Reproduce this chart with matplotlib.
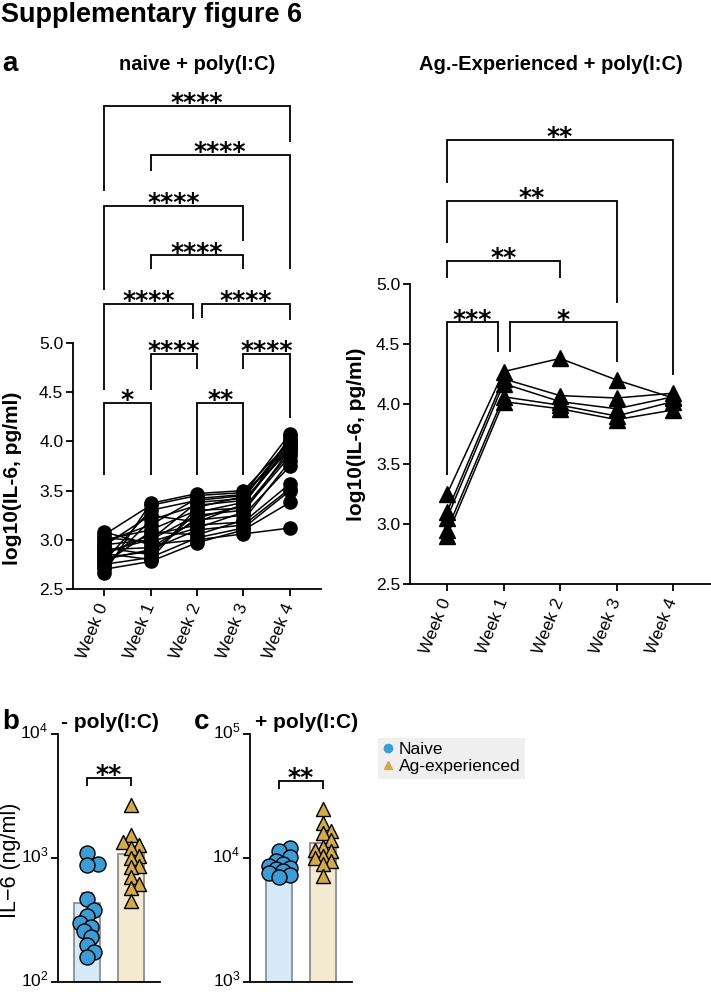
import numpy as np
import matplotlib
matplotlib.use('Agg')
import matplotlib.pyplot as plt
from matplotlib.lines import Line2D
from matplotlib.ticker import NullLocator
from matplotlib.transforms import ScaledTranslation

plt.rcParams['font.family'] = ['Liberation Sans', 'DejaVu Sans']
plt.rcParams['mathtext.fontset'] = 'custom'
plt.rcParams['mathtext.rm'] = 'Liberation Sans'
plt.rcParams['mathtext.it'] = 'Liberation Sans:italic'
plt.rcParams['mathtext.bf'] = 'Liberation Sans:bold'

# ---------------- data ----------------
weeks = ['Week 0', 'Week 1', 'Week 2', 'Week 3', 'Week 4']

# panel a, naive + poly(I:C): log10(IL-6) per donor, one list per week
naive_w0 = [3.08, 2.70, 2.75, 2.80, 2.85, 2.90, 2.95, 3.00, 3.05, 2.72,
            2.78, 2.66, 2.88, 2.82, 2.98, 2.92, 3.02, 2.76, 2.86, 2.94]
naive_w1 = [2.95, 2.78, 2.82, 2.90, 3.05, 2.92, 3.00, 3.10, 3.35, 3.20,
            3.30, 3.37, 3.00, 2.88, 3.15, 2.85, 2.98, 3.08, 2.80, 3.25]
naive_w2 = [3.00, 2.97, 3.02, 3.10, 3.15, 3.20, 3.25, 3.30, 3.45, 3.35,
            3.40, 3.47, 3.38, 3.22, 3.42, 3.28, 3.12, 3.05, 3.33, 3.18]
naive_w3 = [3.06, 3.10, 3.12, 3.15, 3.18, 3.25, 3.30, 3.32, 3.48, 3.40,
            3.45, 3.50, 3.42, 3.35, 3.46, 3.38, 3.28, 3.20, 3.44, 3.36]
naive_w4 = [3.12, 3.38, 3.50, 3.52, 3.57, 3.75, 3.85, 3.88, 3.90, 3.93,
            3.97, 4.00, 4.02, 4.05, 4.08, 3.95, 3.92, 3.80, 4.00, 3.98]

# panel a, Ag.-Experienced + poly(I:C)
ag_w0 = [3.25, 3.10, 3.05, 2.95, 2.90]
ag_w1 = [4.27, 4.21, 4.17, 4.06, 4.02]
ag_w2 = [4.38, 4.07, 4.02, 3.99, 3.96]
ag_w3 = [4.20, 4.05, 3.96, 3.90, 3.87]
ag_w4 = [4.05, 4.09, 4.06, 4.02, 3.95]

# significance labels (pairs of week indices)
sig_naive = [((0, 4), '****'), ((1, 4), '****'), ((0, 3), '****'), ((1, 3), '****'),
             ((0, 2), '****'), ((2, 4), '****'), ((1, 2), '****'), ((3, 4), '****'),
             ((0, 1), '*'), ((2, 3), '**')]
sig_ag = [((0, 4), '**'), ((0, 3), '**'), ((0, 2), '**'), ((0, 1), '***'), ((1, 3), '*')]

# panel b, - poly(I:C), IL-6 (ng/ml)
b_naive = [1090, 900, 870, 470, 380, 340, 300, 280, 260, 230, 200, 175, 160]
b_ag = [2670, 1520, 1350, 1270, 1200, 1030, 1000, 860, 840, 700, 620, 570, 450]
# panel c, + poly(I:C), IL-6 (ng/ml)
c_naive = [12000, 11300, 10200, 9500, 9000, 8600, 8300, 8100, 7800, 7500, 7300, 7000]
c_ag = [24700, 19200, 16600, 16000, 13900, 12300, 11600, 11300, 10300, 10000, 9500, 8900, 7200]
sig_b = '**'
sig_c = '**'
groups = ['Naive', 'Ag-experienced']

# ---------------- layout / style ----------------
W, H = 711, 992
fig = plt.figure(figsize=(W / 100, H / 100), dpi=100)

BLUE = '#3d9bd6'
GOLD = '#d3aa4b'
BLUE_BAR = '#d5e9f6'
GOLD_BAR = '#f4e9d1'
BAR_EDGE = '#8e8e8e'
LW = 1.3


def add_ax(x0, x1, y_top, y_bot):
    return fig.add_axes([x0 / W, 1 - y_bot / H, (x1 - x0) / W, (y_bot - y_top) / H])


def prism(ax):
    for s in ['top', 'right']:
        ax.spines[s].set_visible(False)
    for s in ['left', 'bottom']:
        ax.spines[s].set_linewidth(LW)
    ax.tick_params(direction='out', length=5, width=LW, labelsize=12.5, pad=2)
    ax.patch.set_alpha(0)


def bracket(ax, x1, x2, y, yl, yr, label, off=-3):
    ax.plot([x1, x1, x2, x2], [yl, y, y, yr], color='k', lw=LW, clip_on=False,
            solid_joinstyle='miter', solid_capstyle='butt', zorder=5)
    ax.annotate(label, xy=((x1 + x2) / 2, y), xytext=(0, off), textcoords='offset points',
                ha='center', va='baseline', fontsize=18, fontweight='bold',
                family='DejaVu Sans', annotation_clip=False)


# ---------- panel a left ----------
axL = add_ax(73, 321, 77.3, 589)
prism(axL)
naive_weeks = [naive_w0, naive_w1, naive_w2, naive_w3, naive_w4]
for k in range(len(naive_w0)):
    axL.plot(range(5), [w[k] for w in naive_weeks], color='k', lw=1.1,
             marker='o', ms=9.5, mfc='k', mec='k', zorder=3)
axL.set_xlim(-0.667, 4.667)
axL.set_ylim(2.5, 7.7)
axL.spines['left'].set_bounds(2.5, 5.0)
axL.set_yticks([2.5, 3.0, 3.5, 4.0, 4.5, 5.0])
axL.set_yticklabels(['2.5', '3.0', '3.5', '4.0', '4.5', '5.0'])
axL.set_xticks(range(5))
axL.set_xticklabels(weeks, rotation=68, ha='right', va='center', rotation_mode='anchor')
axL.tick_params(axis='x', pad=6)

# bracket geometry (line height, left/right drop ends, x nudges)
geomL = [(7.41, 6.54, 7.04, 0, 0), (6.91, 6.75, 5.75, 0, 0), (6.39, 5.54, 6.04, 0, 0),
         (5.89, 5.75, 5.75, 0, 0), (5.40, 4.52, 5.24, 0, -0.09), (5.40, 5.25, 5.23, 0.1, 0),
         (4.89, 4.52, 4.74, 0, 0), (4.89, 4.74, 4.24, 0, 0), (4.39, 3.66, 3.66, 0, 0),
         (4.39, 3.66, 3.66, 0, 0)]
for ((i, j), lab), (y, yl, yr, dl, dr) in zip(sig_naive, geomL):
    bracket(axL, i + dl, j + dr, y, yl, yr, lab)

# ---------- panel a right ----------
axR = add_ax(410, 711, 104, 584)
prism(axR)
ag_weeks = [ag_w0, ag_w1, ag_w2, ag_w3, ag_w4]
for k in range(len(ag_w0)):
    axR.plot(range(5), [w[k] for w in ag_weeks], color='k', lw=1.1,
             marker='^', ms=11, mfc='k', mec='k', zorder=3)
axR.set_xlim(-0.655, 4.67)
axR.set_ylim(2.5, 6.5)
axR.spines['left'].set_bounds(2.5, 5.0)
axR.set_yticks([2.5, 3.0, 3.5, 4.0, 4.5, 5.0])
axR.set_yticklabels(['2.5', '3.0', '3.5', '4.0', '4.5', '5.0'])
axR.set_xticks(range(5))
axR.set_xticklabels(weeks, rotation=68, ha='right', va='center', rotation_mode='anchor')
axR.tick_params(axis='x', pad=6)
geomR = [(6.20, 5.84, 4.24, 0, 0), (5.69, 5.34, 4.84, 0, 0), (5.19, 5.05, 5.05, 0, 0),
         (4.68, 3.41, 4.43, 0, -0.1), (4.68, 4.43, 4.35, 0.115, 0)]
for ((i, j), lab), (y, yl, yr, dl, dr) in zip(sig_ag, geomR):
    bracket(axR, i + dl, j + dr, y, yl, yr, lab)


# ---------- panels b, c ----------
def swarm(vals, px_unit, px_dec, diam, step, kmax):
    ys = np.log10(np.asarray(vals, float)) * px_dec
    order = np.argsort(ys)
    placed = []
    offs = np.zeros(len(ys))
    cands = [0.0]
    for k in range(1, kmax + 1):
        cands += [k * step, -k * step]
    for i in order:
        best, bestd = 0.0, -1
        for c in cands:
            d = min([np.hypot(c - px, ys[i] - py) for px, py in placed] or [1e9])
            if d >= diam:
                best = c
                break
            if d > bestd:
                best, bestd = c, d
        offs[i] = best
        placed.append((best, ys[i]))
    return offs / px_unit


def bar_panel(ax, naive, ag, low, high, sig, bry, bry_end):
    prism(ax)
    ax.set_yscale('log')
    ax.set_ylim(low, high)
    ax.set_xlim(-0.66, 1.66)
    ax.yaxis.set_minor_locator(NullLocator())
    ax.set_yticks([low, low * 10, high])
    ax.set_xticks([])
    for x, vals, bc in [(0, naive, BLUE_BAR), (1, ag, GOLD_BAR)]:
        v = np.asarray(vals, float)
        m = v.mean()
        sem = v.std(ddof=1) / np.sqrt(len(v))
        ax.bar(x, m - low, bottom=low, width=0.57, color=bc, edgecolor=BAR_EDGE, lw=1.3, zorder=1)
        ax.errorbar(x, m, yerr=[[0], [sem]], fmt='none', ecolor=BAR_EDGE, capsize=4,
                    elinewidth=1.3, capthick=1.3, zorder=1)
    ox = swarm(naive, 44, 126, 8, 3.5, 3)
    ax.scatter(0 + ox, naive, s=15 ** 2 * 0.52, marker='o', c=BLUE, edgecolors='k',
               linewidths=1.0, zorder=3, clip_on=False)
    ox = swarm(ag, 44, 126, 8, 4, 3)
    ax.scatter(1 + ox, ag, s=14 ** 2 * 0.52, marker='^', c=GOLD, edgecolors='k',
               linewidths=1.0, zorder=3, clip_on=False)
    bracket(ax, 0, 1, bry, bry_end, bry_end, sig, off=-3)
    for lab in ax.get_yticklabels():
        lab.set_transform(lab.get_transform() + ScaledTranslation(0, 3 / 72, fig.dpi_scale_trans))


axB = add_ax(58, 160, 734, 982)
bar_panel(axB, b_naive, b_ag, 1e2, 1e4, sig_b, 4430, 3790)
axC = add_ax(250, 352, 734, 982)
bar_panel(axC, c_naive, c_ag, 1e3, 1e5, sig_c, 41700, 35960)

# ---------- texts ----------
def ftext(x, y, s, **kw):
    fig.text(x / W, 1 - y / H, s, **kw)


ftext(1, 2, 'Supplementary figure 6', ha='left', va='top', fontsize=19.5, fontweight='bold')
ftext(2, 64, 'a', ha='left', va='center', fontsize=20, fontweight='bold')
ftext(197, 64, 'naive + poly(I:C)', ha='center', va='center', fontsize=14.5, fontweight='bold')
ftext(551, 64, 'Ag.-Experienced + poly(I:C)', ha='center', va='center', fontsize=14.5, fontweight='bold')
ftext(13, 478, 'log10(IL-6, pg/ml)', ha='center', va='center', rotation=90, fontsize=15, fontweight='bold')
ftext(356, 434, 'log10(IL-6, pg/ml)', ha='center', va='center', rotation=90, fontsize=15, fontweight='bold')
ftext(2, 722, 'b', ha='left', va='center', fontsize=20, fontweight='bold')
ftext(110, 722, '- poly(I:C)', ha='center', va='center', fontsize=15, fontweight='bold')
ftext(194, 722, 'c', ha='left', va='center', fontsize=20, fontweight='bold')
ftext(307, 722, '+ poly(I:C)', ha='center', va='center', fontsize=15, fontweight='bold')
ftext(11, 860, 'IL\u22126 (ng/ml)', ha='center', va='center', rotation=90, fontsize=15.5)

handles = [Line2D([], [], ls='none', marker='o', ms=6, mfc=BLUE, mec=BLUE),
           Line2D([], [], ls='none', marker='^', ms=6, mfc=GOLD, mec=GOLD)]
leg = fig.legend(handles, groups, loc='upper left', bbox_to_anchor=(378 / W, 1 - 738 / H),
                 frameon=True, facecolor='#efefef', edgecolor='none', framealpha=1,
                 fancybox=False, fontsize=12.5, handlelength=0.6, handletextpad=0.35,
                 borderpad=0.25, labelspacing=0.1, borderaxespad=0)

fig.savefig('out.png', dpi=100)
